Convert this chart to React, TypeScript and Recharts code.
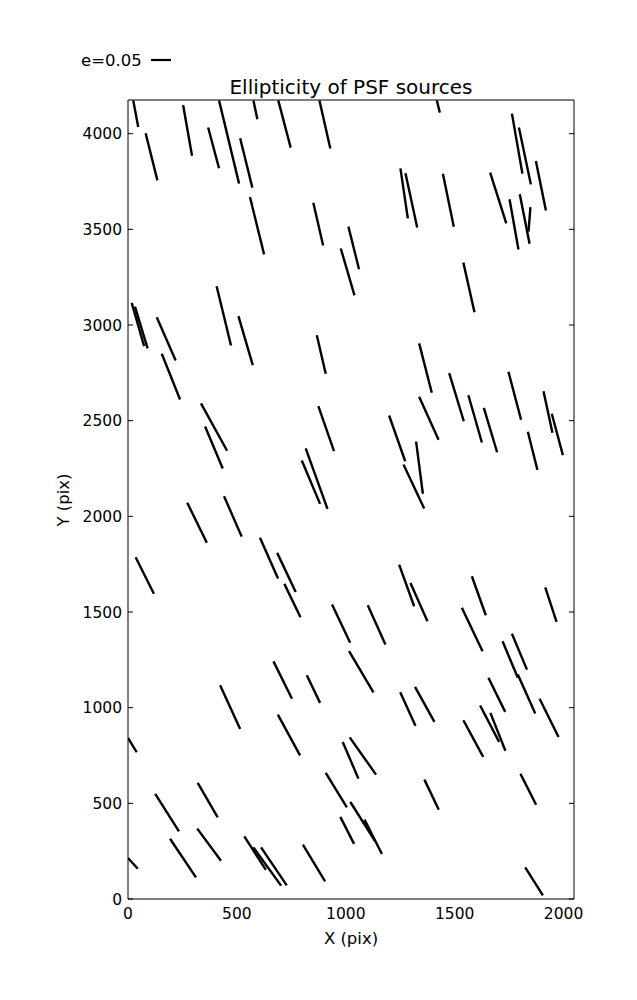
import { ScatterChart, Scatter, XAxis, YAxis, ReferenceLine } from "recharts";

const xTicks = [0, 500, 1000, 1500, 2000];
const yTicks = [0, 500, 1000, 1500, 2000, 2500, 3000, 3500, 4000];
const xMax = 2048;
const yMax = 4176;

const legendLabel = "e=0.05";

// whisker end points, in pixels of the CCD: [x1, y1, x2, y2]
const whiskers: [number, number, number, number][] = [
  [24, 4174, 47, 4035],
  [81, 4002, 135, 3756],
  [253, 4150, 294, 3885],
  [368, 4032, 418, 3819],
  [418, 4174, 510, 3739],
  [515, 3976, 571, 3718],
  [576, 4174, 594, 4075],
  [690, 4174, 747, 3927],
  [879, 4174, 929, 3923],
  [560, 3669, 625, 3369],
  [851, 3639, 896, 3416],
  [1012, 3514, 1061, 3291],
  [977, 3400, 1040, 3155],
  [407, 3203, 473, 2893],
  [1418, 4174, 1432, 4110],
  [1763, 4105, 1811, 3791],
  [1795, 4032, 1850, 3735],
  [1873, 3857, 1919, 3599],
  [1251, 3819, 1285, 3557],
  [1274, 3793, 1328, 3509],
  [1446, 3791, 1496, 3514],
  [1663, 3796, 1737, 3531],
  [1752, 3657, 1793, 3395],
  [1799, 3683, 1844, 3425],
  [1848, 3616, 1839, 3488],
  [1540, 3326, 1591, 3067],
  [17, 3116, 74, 2890],
  [32, 3096, 90, 2878],
  [132, 3041, 219, 2815],
  [155, 2850, 239, 2611],
  [507, 3046, 573, 2790],
  [867, 2947, 908, 2745],
  [335, 2590, 455, 2343],
  [354, 2470, 435, 2250],
  [874, 2576, 946, 2341],
  [816, 2355, 916, 2039],
  [798, 2292, 882, 2065],
  [272, 2071, 362, 1862],
  [441, 2105, 522, 1894],
  [1337, 2904, 1395, 2646],
  [1475, 2748, 1542, 2497],
  [1747, 2756, 1805, 2505],
  [1908, 2654, 1949, 2437],
  [1946, 2536, 1997, 2320],
  [1337, 2625, 1426, 2400],
  [1563, 2633, 1625, 2386],
  [1634, 2567, 1695, 2335],
  [1199, 2527, 1273, 2288],
  [1323, 2390, 1354, 2118],
  [1265, 2271, 1360, 2041],
  [1836, 2442, 1880, 2243],
  [35, 1786, 119, 1595],
  [606, 1888, 689, 1675],
  [685, 1809, 770, 1605],
  [718, 1647, 792, 1473],
  [937, 1539, 1020, 1339],
  [668, 1242, 753, 1047],
  [821, 1169, 882, 1025],
  [423, 1117, 515, 889],
  [1015, 1295, 1127, 1080],
  [1245, 1748, 1314, 1530],
  [1297, 1652, 1375, 1452],
  [1101, 1535, 1182, 1330],
  [1579, 1687, 1643, 1483],
  [1533, 1522, 1628, 1295],
  [1916, 1629, 1968, 1448],
  [1763, 1386, 1832, 1199],
  [1720, 1347, 1790, 1156],
  [1790, 1173, 1870, 969],
  [1250, 1080, 1320, 906],
  [1318, 1109, 1407, 926],
  [1655, 1156, 1732, 978],
  [1890, 1047, 1977, 847],
  [0, 842, 40, 767],
  [688, 964, 790, 751],
  [986, 821, 1058, 629],
  [908, 659, 1005, 479],
  [975, 429, 1038, 288],
  [125, 549, 234, 353],
  [320, 607, 412, 427],
  [193, 315, 312, 113],
  [318, 368, 427, 200],
  [0, 214, 45, 158],
  [534, 327, 633, 153],
  [576, 270, 703, 70],
  [611, 270, 729, 71],
  [803, 284, 905, 92],
  [1018, 845, 1139, 650],
  [1540, 934, 1631, 743],
  [1617, 1011, 1704, 821],
  [1664, 973, 1733, 775],
  [1361, 624, 1427, 467],
  [1802, 655, 1874, 493],
  [1021, 507, 1135, 301],
  [1086, 415, 1166, 235],
  [1824, 165, 1905, 19],
];

const font = "'DejaVu Sans', sans-serif";
const tickStyle = { fill: "#000", fontSize: 15.5, fontFamily: font };
const blank = () => "";

export default function App() {
  const ends = whiskers.flatMap(([x1, y1, x2, y2]) => [
    { x: x1, y: y1 },
    { x: x2, y: y2 },
  ]);

  return (
    <div
      style={{
        position: "absolute",
        left: 0,
        top: 0,
        width: 637,
        height: 1000,
        background: "#fff",
        fontFamily: font,
      }}
    >
      <ScatterChart
        width={637}
        height={1000}
        margin={{ top: 100, right: 63, bottom: 41, left: 0 }}
      >
        <XAxis
          type="number"
          dataKey="x"
          domain={[0, xMax]}
          ticks={xTicks}
          interval={0}
          allowDataOverflow
          height={60}
          tickLine={false}
          tickSize={5}
          tickMargin={4}
          tick={tickStyle}
          axisLine={{ stroke: "#000", strokeWidth: 1 }}
        />
        <XAxis
          xAxisId="bottomIn"
          type="number"
          orientation="bottom"
          mirror
          domain={[0, xMax]}
          ticks={xTicks}
          interval={0}
          allowDataOverflow
          tickSize={5}
          tickFormatter={blank}
          axisLine={false}
          tickLine={{ stroke: "#000" }}
        />
        <XAxis
          xAxisId="top"
          type="number"
          orientation="top"
          mirror
          domain={[0, xMax]}
          ticks={xTicks}
          interval={0}
          allowDataOverflow
          tickSize={5}
          tickFormatter={blank}
          axisLine={{ stroke: "#000", strokeWidth: 1 }}
          tickLine={{ stroke: "#000" }}
        />
        <YAxis
          type="number"
          dataKey="y"
          domain={[0, yMax]}
          ticks={yTicks}
          interval={0}
          allowDataOverflow
          width={128}
          tickLine={false}
          tickSize={5}
          tickMargin={1}
          tick={tickStyle}
          axisLine={{ stroke: "#000", strokeWidth: 1 }}
        />
        <YAxis
          yAxisId="leftIn"
          type="number"
          orientation="left"
          mirror
          domain={[0, yMax]}
          ticks={yTicks}
          interval={0}
          allowDataOverflow
          tickSize={5}
          tickFormatter={blank}
          axisLine={false}
          tickLine={{ stroke: "#000" }}
        />
        <YAxis
          yAxisId="right"
          type="number"
          orientation="right"
          mirror
          domain={[0, yMax]}
          ticks={yTicks}
          interval={0}
          allowDataOverflow
          tickSize={5}
          tickFormatter={blank}
          axisLine={{ stroke: "#000", strokeWidth: 1 }}
          tickLine={{ stroke: "#000" }}
        />
        <Scatter
          data={ends}
          fill="none"
          shape={() => <g />}
          isAnimationActive={false}
        />
        {whiskers.map(([x1, y1, x2, y2], i) => (
          <ReferenceLine
            key={i}
            segment={[
              { x: x1, y: y1 },
              { x: x2, y: y2 },
            ]}
            stroke="#000"
            strokeWidth={2.4}
            ifOverflow="hidden"
          />
        ))}
      </ScatterChart>
      <svg
        width={637}
        height={1000}
        style={{ position: "absolute", left: 0, top: 0, pointerEvents: "none" }}
        fontFamily={font}
      >
        <text x={81} y={66} fontSize={16.5} fill="#000">
          {legendLabel}
        </text>
        <line x1={151} y1={60} x2={171} y2={60} stroke="#000" strokeWidth={2.2} />
        <text x={351} y={94} fontSize={20} fill="#000" textAnchor="middle">
          Ellipticity of PSF sources
        </text>
        <text x={351} y={944} fontSize={16.5} fill="#000" textAnchor="middle">
          X (pix)
        </text>
        <text
          x={0}
          y={0}
          fontSize={16.5}
          fill="#000"
          textAnchor="middle"
          transform="translate(69,500) rotate(-90)"
        >
          Y (pix)
        </text>
      </svg>
    </div>
  );
}
